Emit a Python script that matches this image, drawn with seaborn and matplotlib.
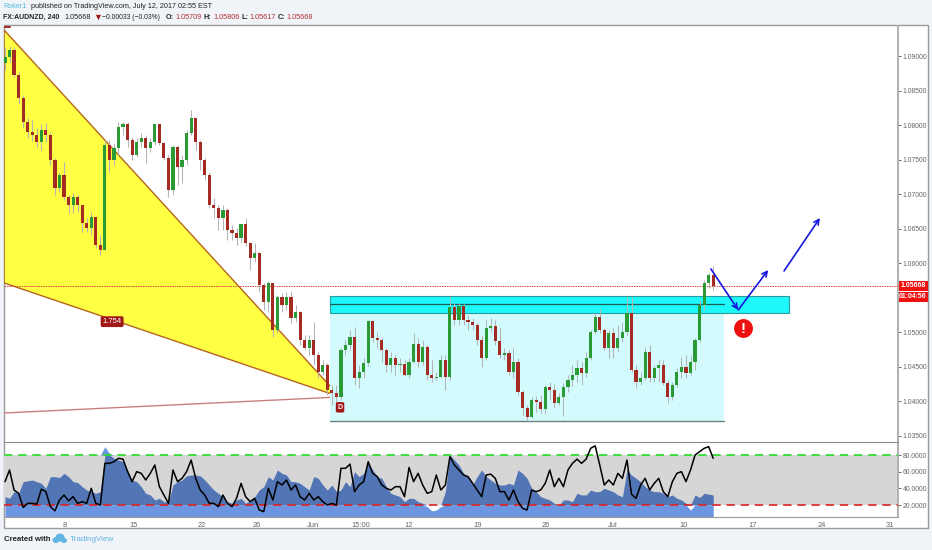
import numpy as np
import pandas as pd
import matplotlib
matplotlib.use("Agg")
import matplotlib.pyplot as plt
from matplotlib.patches import Rectangle, Polygon, Ellipse
import seaborn as sns

# AUDNZD 240 (every second bar)
first_open = 1.0890
close = [1.0899, 1.0909, 1.0873, 1.0839, 1.0805, 1.0790, 1.0786, 1.0776, 1.0793, 1.0786,
         1.0750, 1.0709, 1.0728, 1.0696, 1.0684, 1.0696, 1.0684, 1.0658, 1.0651, 1.0667,
         1.0626, 1.0619, 1.0771, 1.0750, 1.0767, 1.0797, 1.0802, 1.0779, 1.0757, 1.0776,
         1.0781, 1.0767, 1.0776, 1.0801, 1.0774, 1.0752, 1.0706, 1.0768, 1.0739, 1.0750,
         1.0789, 1.0810, 1.0776, 1.0750, 1.0728, 1.0684, 1.0680, 1.0666, 1.0677, 1.0648,
         1.0644, 1.0637, 1.0657, 1.0629, 1.0608, 1.0615, 1.0569, 1.0544, 1.0571, 1.0503,
         1.0551, 1.0540, 1.0551, 1.0521, 1.0530, 1.0489, 1.0477, 1.0489, 1.0467, 1.0443,
         1.0453, 1.0417, 1.0412, 1.0407, 1.0475, 1.0482, 1.0493, 1.0434, 1.0443, 1.0456,
         1.0517, 1.0492, 1.0489, 1.0475, 1.0453, 1.0463, 1.0453, 1.0454, 1.0438, 1.0457,
         1.0483, 1.0457, 1.0479, 1.0438, 1.0434, 1.0435, 1.0460, 1.0435, 1.0537, 1.0518,
         1.0538, 1.0518, 1.0515, 1.0511, 1.0489, 1.0463, 1.0506, 1.0509, 1.0487, 1.0467,
         1.0470, 1.0443, 1.0457, 1.0414, 1.0391, 1.0378, 1.0402, 1.0399, 1.0389, 1.0421,
         1.0417, 1.0398, 1.0407, 1.0421, 1.0431, 1.0438, 1.0448, 1.0441, 1.0463, 1.0501,
         1.0522, 1.0503, 1.0477, 1.0499, 1.0477, 1.0492, 1.0501, 1.0528, 1.0446, 1.0428,
         1.0434, 1.0472, 1.0434, 1.0448, 1.0453, 1.0427, 1.0407, 1.0424, 1.0443, 1.0450,
         1.0441, 1.0457, 1.0489, 1.0540, 1.0571, 1.0583, 1.05668]
high = [1.0912, 1.0915, 1.0913, 1.0877, 1.0844, 1.0810, 1.0807, 1.0796, 1.0802, 1.0803,
        1.0790, 1.0752, 1.0731, 1.0747, 1.0699, 1.0702, 1.0699, 1.0684, 1.0666, 1.0674,
        1.0667, 1.0641, 1.0778, 1.0778, 1.0774, 1.0805, 1.0805, 1.0805, 1.0783, 1.0781,
        1.0789, 1.0786, 1.0781, 1.0802, 1.0802, 1.0776, 1.0757, 1.0771, 1.0771, 1.0757,
        1.0793, 1.0822, 1.0812, 1.0778, 1.0752, 1.0732, 1.0694, 1.0684, 1.0684, 1.0680,
        1.0655, 1.0651, 1.0654, 1.0666, 1.0631, 1.0629, 1.0616, 1.0571, 1.0574, 1.0571,
        1.0554, 1.0557, 1.0558, 1.0560, 1.0540, 1.0531, 1.0496, 1.0496, 1.0515, 1.0472,
        1.0460, 1.0456, 1.0424, 1.0424, 1.0477, 1.0489, 1.0503, 1.0508, 1.0453, 1.0463,
        1.0518, 1.0518, 1.0501, 1.0493, 1.0477, 1.0472, 1.0467, 1.0463, 1.0460, 1.0463,
        1.0499, 1.0492, 1.0489, 1.0482, 1.0460, 1.0443, 1.0467, 1.0467, 1.0551, 1.0543,
        1.0543, 1.0541, 1.0525, 1.0521, 1.0513, 1.0496, 1.0518, 1.0521, 1.0518, 1.0506,
        1.0477, 1.0475, 1.0477, 1.0463, 1.0417, 1.0395, 1.0407, 1.0408, 1.0410, 1.0424,
        1.0428, 1.0425, 1.0412, 1.0427, 1.0438, 1.0453, 1.0460, 1.0457, 1.0472, 1.0503,
        1.0528, 1.0534, 1.0506, 1.0503, 1.0506, 1.0511, 1.0515, 1.0551, 1.0551, 1.0453,
        1.0443, 1.0479, 1.0482, 1.0453, 1.0460, 1.0460, 1.0431, 1.0428, 1.0448, 1.0464,
        1.0467, 1.0467, 1.0492, 1.0547, 1.0576, 1.0586, 1.0596]
low = [1.0880, 1.0891, 1.0870, 1.0831, 1.0796, 1.0781, 1.0777, 1.0768, 1.0764, 1.0776,
       1.0742, 1.0699, 1.0703, 1.0692, 1.0673, 1.0673, 1.0674, 1.0645, 1.0645, 1.0641,
       1.0622, 1.0612, 1.0619, 1.0732, 1.0742, 1.0757, 1.0786, 1.0768, 1.0750, 1.0754,
       1.0768, 1.0745, 1.0761, 1.0771, 1.0771, 1.0750, 1.0696, 1.0699, 1.0713, 1.0716,
       1.0742, 1.0786, 1.0764, 1.0735, 1.0721, 1.0680, 1.0666, 1.0648, 1.0648, 1.0634,
       1.0634, 1.0626, 1.0629, 1.0625, 1.0590, 1.0602, 1.0558, 1.0532, 1.0529, 1.0493,
       1.0500, 1.0529, 1.0532, 1.0514, 1.0515, 1.0482, 1.0475, 1.0467, 1.0453, 1.0434,
       1.0438, 1.0409, 1.0395, 1.0388, 1.0402, 1.0467, 1.0475, 1.0424, 1.0419, 1.0434,
       1.0451, 1.0486, 1.0477, 1.0457, 1.0443, 1.0443, 1.0438, 1.0443, 1.0437, 1.0434,
       1.0456, 1.0450, 1.0453, 1.0431, 1.0428, 1.0431, 1.0434, 1.0417, 1.0431, 1.0511,
       1.0511, 1.0511, 1.0503, 1.0503, 1.0482, 1.0450, 1.0460, 1.0500, 1.0482, 1.0463,
       1.0460, 1.0438, 1.0434, 1.0409, 1.0380, 1.0373, 1.0376, 1.0385, 1.0383, 1.0382,
       1.0402, 1.0391, 1.0395, 1.0379, 1.0414, 1.0422, 1.0428, 1.0424, 1.0435, 1.0460,
       1.0498, 1.0499, 1.0475, 1.0463, 1.0463, 1.0472, 1.0486, 1.0496, 1.0443, 1.0419,
       1.0424, 1.0431, 1.0428, 1.0428, 1.0428, 1.0424, 1.0398, 1.0402, 1.0421, 1.0434,
       1.0434, 1.0438, 1.0446, 1.0486, 1.0532, 1.0564, 1.0561]

osc_line = [48, 62, 38, 34, 17, 22, 22, 21, 39, 36,
            18, 13, 26, 32, 25, 30, 22, 24, 22, 40,
            22, 20, 70, 70, 72, 76, 75, 60, 48, 60,
            58, 50, 58, 68, 42, 32, 22, 62, 48, 52,
            60, 74, 52, 38, 32, 22, 22, 18, 32, 22,
            18, 28, 46, 30, 24, 28, 14, 12, 40, 26,
            48, 44, 50, 38, 44, 30, 26, 34, 26, 30,
            24, 20, 22, 20, 64, 64, 69, 36, 44, 48,
            72, 58, 54, 44, 40, 38, 42, 42, 30, 65,
            48, 58, 44, 34, 36, 56, 38, 44, 78, 68,
            62, 56, 54, 46, 38, 30, 56, 57, 52, 36,
            36, 26, 38, 24, 16, 14, 38, 36, 38, 46,
            62, 42, 52, 42, 62, 70, 75, 70, 75, 88,
            91, 68, 44, 50, 44, 58, 52, 74, 33, 28,
            44, 52, 38, 46, 52, 36, 30, 48, 58, 60,
            48, 62, 80, 84, 88, 90, 76]
osc_area = [30, 28, 36, 34, 48, 49, 50, 48, 46, 40,
            54, 54, 53, 58, 54, 48, 47, 42, 38, 36,
            34, 36, 90, 82, 76, 74, 72, 62, 50, 48,
            42, 34, 32, 26, 28, 24, 24, 44, 48, 50,
            55, 56, 56, 55, 50, 44, 38, 34, 30, 24,
            22, 26, 28, 22, 26, 30, 38, 42, 54, 50,
            62, 58, 56, 48, 48, 46, 42, 38, 54, 52,
            44, 38, 44, 36, 38, 48, 42, 60, 54, 58,
            70, 62, 54, 52, 42, 34, 32, 30, 24, 28,
            28, 24, 22, 18, 13, 14, 18, 36, 80, 74,
            68, 58, 54, 44, 54, 62, 54, 50, 46, 44,
            44, 46, 44, 62, 58, 52, 40, 36, 30, 28,
            26, 22, 20, 26, 26, 24, 34, 32, 32, 38,
            36, 36, 40, 38, 36, 32, 30, 62, 56, 52,
            48, 42, 38, 36, 36, 34, 30, 32, 28, 26,
            22, 14, 32, 29, 34, 33, 32]

date_ticks = [13.06, 28.35, 43.4, 55.5, 67.8, 78.3, 88.9, 104.1, 119.2, 133.9, 149.5, 164.7, 179.9, 194.9]
date_labels = ["8", "15", "22", "26", "Jun", "15:00", "12", "19", "26", "Jul", "10", "17", "24", "31"]
price_ticks = [1.035, 1.04, 1.045, 1.05, 1.06, 1.065, 1.07, 1.075, 1.08, 1.085, 1.09]
osc_ticks = [20, 40, 60, 80]

W, H = 932, 550
UP, DOWN, WICK = "#2a9a35", "#a52a22", "#b4b4b4"


def fx(px):
    return px / W


def fy(px):
    return 1 - px / H


sns.set_theme(style="white")
plt.rcParams["font.family"] = ["Liberation Sans", "DejaVu Sans"]

df = pd.DataFrame({"bar": np.arange(len(close)), "close": close, "high": high, "low": low,
                   "line": osc_line, "area": osc_area})
df["open"] = df["close"].shift(1).fillna(first_open)
rising = df["close"] >= df["open"]

fig = plt.figure(figsize=(W / 100, H / 100), dpi=100, facecolor="#f0f3f8")
fig.add_artist(Rectangle((fx(3.5), fy(528)), fx(924.5), 503 / H, transform=fig.transFigure,
                         facecolor="white", edgecolor="#9a9a9a", lw=1, zorder=-5))

ax = fig.add_axes([fx(4), fy(442), fx(894), 416 / H], facecolor="none")
ax2 = fig.add_axes([fx(4), fy(517), fx(894), 75 / H], sharex=ax, facecolor="none")
xlim = (-0.22, 196.7)

# harmonic pattern and zones go under the candles
ax.add_patch(Polygon([(-0.2, 1.09377), (73.8, 1.04065), (-0.2, 1.05715)], closed=True,
                     facecolor="#ffff44", edgecolor="#b5651d", lw=1, zorder=1))
ax.plot([-0.2, 73.8], [1.03833, 1.04065], color="#c98080", lw=1, zorder=1)
ax.plot([-0.2, 1.2], [1.09425, 1.09425], color=DOWN, lw=1.4, zorder=1)
ax.add_patch(Rectangle((71.6, 1.0372), 86.8, 0.0156, facecolor="#d3fbfd", edgecolor="none", zorder=1))
ax.plot([71.6, 158.4], [1.0372, 1.0372], color="#6f7f7f", lw=1, zorder=2)
ax.add_patch(Rectangle((71.6, 1.05281), 101.1, 0.00246, facecolor="#1ff8fa", edgecolor="#2a9a9a", lw=0.8, zorder=2))
ax.plot([71.6, 158.4], [1.05411, 1.05411], color="#1d5a5a", lw=0.9, zorder=3)
ax.axhline(1.05668, color="#e04040", lw=0.7, ls=(0, (1.5, 1)), zorder=3)

ax.vlines(df["bar"], df["low"], df["high"], color=WICK, lw=0.75, zorder=4)
body = (df["close"] - df["open"]).abs().clip(lower=0.00012)
bottom = df[["open", "close"]].min(axis=1)
ax.bar(df["bar"], body, bottom=bottom, width=0.7,
       color=np.where(rising, UP, DOWN).tolist(), linewidth=0, zorder=5)

# drawn forecast path
arrow_path = [((155.5, 1.05917), (161.5, 1.05324)),
              ((161.5, 1.05324), (168.1, 1.05903)),
              ((171.6, 1.05889), (179.5, 1.06656))]
for start, end in arrow_path:
    ax.annotate("", xy=end, xytext=start, zorder=7,
                arrowprops=dict(arrowstyle="->", color="#1616e0", lw=1.2, shrinkA=0, shrinkB=0,
                                mutation_scale=9))
ax.scatter([162.6], [1.05064], s=185, color="#ee1111", zorder=7, linewidths=0)
ax.text(162.6, 1.05064, "!", color="white", fontsize=11, fontweight="bold",
        ha="center", va="center_baseline", zorder=8)
ax.text(23.6, 1.05155, "1.754", color="white", fontsize=5.5, ha="center", va="center", zorder=8,
        bbox=dict(boxstyle="round,pad=0.25", facecolor="#a01818", edgecolor="none"))
ax.text(73.8, 1.03915, "D", color="white", fontsize=5, fontweight="bold", ha="center", va="center", zorder=8,
        bbox=dict(boxstyle="round,pad=0.25", facecolor="#a01818", edgecolor="none"))

ax.set_xlim(xlim)
ax.set_ylim(1.03413, 1.09435)
ax.yaxis.tick_right()
ax.set_yticks(price_ticks)
ax.set_yticklabels([f"{t:.5f}" for t in price_ticks])
ax.tick_params(axis="y", labelsize=4.9, colors="#666666", length=2, width=0.7, pad=1.5, right=True)
ax.tick_params(axis="x", bottom=False, labelbottom=False)

# oscillator panel
ax2.axhspan(20, 80, color="#d6d6d6", zorder=1, lw=0)
area = df["area"].to_numpy(dtype=float)
bars = df["bar"].to_numpy(dtype=float)
ax2.fill_between(bars, 5.6, np.minimum(area, 20), color="#6d96e2", lw=0, zorder=2)
ax2.fill_between(bars, 20, np.clip(area, 20, 80), color="#5275b6", lw=0, zorder=2)
ax2.fill_between(bars, 80, np.maximum(area, 80), color="#6d96e2", lw=0, zorder=2)
ax2.axhline(80, color="#22dd22", lw=1.2, ls=(0, (5, 3.5)), zorder=3)
ax2.axhline(20, color="#dd2222", lw=1.2, ls=(0, (5, 3.5)), zorder=3)
sns.lineplot(data=df, x="bar", y="line", color="black", lw=1.1, errorbar=None, ax=ax2, zorder=4)
ax2.set_xlim(xlim)
ax2.set_ylim(5.6, 95.6)
ax2.set_xlabel("")
ax2.set_ylabel("")
ax2.yaxis.tick_right()
ax2.set_yticks(osc_ticks)
ax2.set_yticklabels([f"{t:.4f}" for t in osc_ticks])
ax2.tick_params(axis="y", labelsize=4.9, colors="#666666", length=2, width=0.7, pad=1.5, right=True)
ax2.set_xticks(date_ticks)
ax2.set_xticklabels(date_labels)
ax2.tick_params(axis="x", labelsize=5.4, colors="#666666", length=0, pad=3.5, bottom=True)

for a in (ax, ax2):
    for side in ("left", "top", "bottom"):
        a.spines[side].set_visible(False)
    a.spines["right"].set_color("#b0b0b0")
    a.spines["right"].set_linewidth(1.4)
ax2.spines["top"].set_visible(True)
ax2.spines["top"].set_color("#8a8a8a")
ax2.spines["top"].set_linewidth(0.8)
ax2.spines["bottom"].set_visible(True)
ax2.spines["bottom"].set_color("#9a9a9a")
ax2.spines["bottom"].set_linewidth(0.8)

# last price tags on the scale
for y_px, label in [(285.5, "1.05668"), (296.5, "01:04:56")]:
    fig.add_artist(Rectangle((fx(898.5), fy(y_px + 5.5)), fx(29), 10 / H, transform=fig.transFigure,
                             facecolor="#f01010", edgecolor="none", zorder=5))
    fig.text(fx(913), fy(y_px), label, color="white", fontsize=5, fontweight="bold",
             ha="center", va="center", zorder=6)

# header
head = dict(fontsize=5.2, va="center", color="#222222")
fig.text(fx(3), fy(7), "Roker1", **{**head, "color": "#55bbe0"})
fig.text(fx(30.5), fy(7), "published on TradingView.com, July 12, 2017 02:55 EST", **head)
fig.text(fx(3), fy(17.5), "FX:AUDNZD, 240", fontweight="bold", **{**head, "fontsize": 5})
fig.text(fx(64), fy(17.5), "1.05668", **head)
fig.text(fx(93.5), fy(17.5), "▼", **{**head, "color": "#a01818", "fontsize": 6.5})
fig.text(fx(102), fy(17.5), "−0.00033 (−0.03%)", **{**head, "fontsize": 4.9})
for x_lab, lab, x_val, val in [(166, "O:", 175, "1.05709"), (204, "H:", 213, "1.05806"),
                               (242, "L:", 249, "1.05617"), (278, "C:", 286, "1.05668")]:
    fig.text(fx(x_lab), fy(17.5), lab, fontweight="bold", **head)
    fig.text(fx(x_val), fy(17.5), val, **{**head, "color": "#b03030"})

# footer
fig.text(fx(4), fy(539.5), "Created with", fontsize=5.6, fontweight="bold", va="center", color="#222222")
for cx, cy, ew, eh in [(56, 540, 7, 6), (60, 537.5, 9, 8), (64, 540.5, 6, 5)]:
    fig.add_artist(Ellipse((fx(cx), fy(cy)), ew / W, eh / H, transform=fig.transFigure,
                           facecolor="#62b5e0", edgecolor="none"))
fig.text(fx(70), fy(539.5), "TradingView", fontsize=5.8, va="center", color="#62b5e0")

fig.savefig("out.png", dpi=100, facecolor=fig.get_facecolor())
